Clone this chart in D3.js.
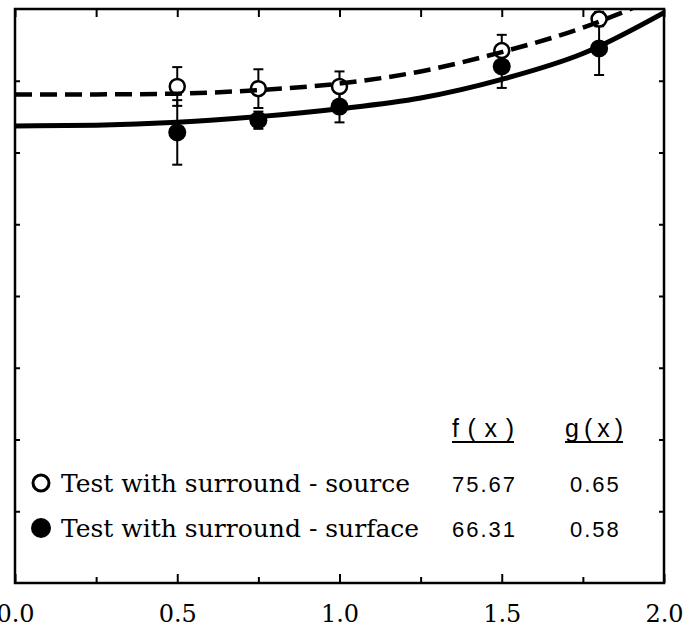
<!DOCTYPE html>
<html>
<head>
<meta charset="utf-8">
<script src="https://cdn.jsdelivr.net/npm/d3@7"></script>
<style>
  body { margin: 0; background: #fff; }
  svg { display: block; }
</style>
</head>
<body>
<div id="chart"></div>
<script>
// x positions of the measured points
const xValues = [0.5, 0.75, 1.0, 1.5, 1.8];

// open circles: test with surround - source
const sourceMean = [69.2, 68.9, 69.2, 74.2, 78.6];
const sourceErr = [2.7, 2.7, 2.1, 2.2, 1.0];

// filled circles: test with surround - surface
const surfaceMean = [62.8, 64.5, 66.4, 72.0, 74.5];
const surfaceErr = [4.5, 1.2, 2.2, 3.0, 3.7];

// fitted curves
const fitX = [0, 0.25, 0.5, 0.75, 1.0, 1.25, 1.5, 1.75, 2.0];
const sourceFit = [68.1, 68.1, 68.2, 68.7, 69.6, 71.3, 74.0, 77.4, 82.0];
const surfaceFit = [63.7, 63.8, 64.2, 65.0, 66.1, 67.6, 70.2, 73.8, 79.5];

// ticks
const xMajor = [0, 0.5, 1.0, 1.5, 2.0];
const xMinor = [0.25, 0.75, 1.25, 1.75];
const yTicks = [10, 20, 30, 40, 50, 60, 70];

// legend table
const legendLabels = ["Test with surround - source", "Test with surround - surface"];
const fValues = ["75.67", "66.31"];
const gValues = ["0.65", "0.58"];
const headers = ["f(x)", "g(x)"];

const W = 694, H = 633;
const plot = { left: 15, right: 664, top: 9, bottom: 583 };

const svg = d3.select("#chart").append("svg")
  .attr("width", W)
  .attr("height", H);

const x = d3.scaleLinear().domain([0, 2]).range([plot.left, plot.right]);
const y = d3.scaleLinear().domain([0, 80]).range([plot.bottom, plot.top]);

svg.append("defs").append("clipPath").attr("id", "clip")
  .append("rect")
  .attr("x", plot.left).attr("y", plot.top)
  .attr("width", plot.right - plot.left)
  .attr("height", plot.bottom - plot.top);

// axes (ticks pointing inward, frame drawn separately)
function styleAxis(g) {
  g.select(".domain").remove();
  g.selectAll(".tick line").attr("stroke", "#000").attr("stroke-width", 2);
}

svg.append("g")
  .attr("transform", `translate(0,${plot.bottom})`)
  .call(d3.axisBottom(x).tickValues(xMajor).tickSizeInner(-9).tickSizeOuter(0)
    .tickPadding(0).tickFormat(d3.format(".1f")))
  .call(styleAxis)
  .call(g => g.selectAll(".tick text")
    .attr("y", 39).attr("dy", null)
    .attr("font-family", "'DejaVu Serif', serif")
    .attr("font-size", 24)
    .attr("fill", "#000"));

svg.append("g")
  .attr("transform", `translate(0,${plot.bottom})`)
  .call(d3.axisBottom(x).tickValues(xMinor).tickSizeInner(-6).tickSizeOuter(0).tickFormat(""))
  .call(styleAxis);

svg.append("g")
  .attr("transform", `translate(0,${plot.top})`)
  .call(d3.axisTop(x).tickValues(xMajor.concat(xMinor)).tickSizeInner(-8).tickSizeOuter(0).tickFormat(""))
  .call(styleAxis);

svg.append("g")
  .attr("transform", `translate(${plot.left},0)`)
  .call(d3.axisLeft(y).tickValues(yTicks).tickSizeInner(-5).tickSizeOuter(0).tickFormat(""))
  .call(styleAxis);

svg.append("g")
  .attr("transform", `translate(${plot.right},0)`)
  .call(d3.axisRight(y).tickValues(yTicks).tickSizeInner(-5).tickSizeOuter(0).tickFormat(""))
  .call(styleAxis);

// frame
svg.append("rect")
  .attr("x", plot.left).attr("y", plot.top)
  .attr("width", plot.right - plot.left)
  .attr("height", plot.bottom - plot.top)
  .attr("fill", "none")
  .attr("stroke", "#000")
  .attr("stroke-width", 2.5);

// error bars
function errorBars(means, errs) {
  const g = svg.append("g").attr("stroke", "#000").attr("stroke-width", 2);
  xValues.forEach((xv, i) => {
    const cx = x(xv), lo = y(means[i] - errs[i]), hi = y(means[i] + errs[i]);
    g.append("line").attr("x1", cx).attr("x2", cx).attr("y1", lo).attr("y2", hi);
    g.append("line").attr("x1", cx - 5).attr("x2", cx + 5).attr("y1", lo).attr("y2", lo);
    g.append("line").attr("x1", cx - 5).attr("x2", cx + 5).attr("y1", hi).attr("y2", hi);
  });
}
errorBars(surfaceMean, surfaceErr);
errorBars(sourceMean, sourceErr);

// points
svg.append("g").selectAll("circle")
  .data(xValues)
  .join("circle")
  .attr("cx", d => x(d))
  .attr("cy", (d, i) => y(surfaceMean[i]))
  .attr("r", 9)
  .attr("fill", "#000");

svg.append("g").selectAll("circle")
  .data(xValues)
  .join("circle")
  .attr("cx", d => x(d))
  .attr("cy", (d, i) => y(sourceMean[i]))
  .attr("r", 7.5)
  .attr("fill", "#fff")
  .attr("stroke", "#000")
  .attr("stroke-width", 2.5);

// fitted curves
const line = d3.line()
  .x((d, i) => x(fitX[i]))
  .y(d => y(d))
  .curve(d3.curveMonotoneX);

svg.append("path")
  .datum(surfaceFit)
  .attr("clip-path", "url(#clip)")
  .attr("d", line)
  .attr("fill", "none")
  .attr("stroke", "#000")
  .attr("stroke-width", 5);

svg.append("path")
  .datum(sourceFit)
  .attr("clip-path", "url(#clip)")
  .attr("d", line)
  .attr("fill", "none")
  .attr("stroke", "#000")
  .attr("stroke-width", 4.5)
  .attr("stroke-dasharray", "17,8");

// legend
const rowY = [492, 537];
const legend = svg.append("g");

legend.append("circle")
  .attr("cx", 41).attr("cy", rowY[0] - 9).attr("r", 8)
  .attr("fill", "#fff").attr("stroke", "#000").attr("stroke-width", 3);
legend.append("circle")
  .attr("cx", 41).attr("cy", rowY[1] - 9).attr("r", 10)
  .attr("fill", "#000");

legend.selectAll("text.lab")
  .data(legendLabels)
  .join("text")
  .attr("class", "lab")
  .attr("x", 61)
  .attr("y", (d, i) => rowY[i])
  .attr("font-family", "'DejaVu Serif', serif")
  .attr("font-size", 25)
  .text(d => d);

const numFont = "'Liberation Sans', Arial, sans-serif";
legend.selectAll("text.f")
  .data(fValues)
  .join("text")
  .attr("class", "f")
  .attr("x", 452)
  .attr("y", (d, i) => rowY[i])
  .attr("font-family", numFont)
  .attr("font-size", 22)
  .attr("letter-spacing", 2)
  .text(d => d);

legend.selectAll("text.g")
  .data(gValues)
  .join("text")
  .attr("class", "g")
  .attr("x", 570)
  .attr("y", (d, i) => rowY[i])
  .attr("font-family", numFont)
  .attr("font-size", 22)
  .attr("letter-spacing", 2)
  .text(d => d);

const headX = [452, 565];
const headLen = [62, 58];
headers.forEach((h, i) => {
  legend.append("text")
    .attr("x", headX[i])
    .attr("y", 437)
    .attr("font-family", numFont)
    .attr("font-size", 25)
    .attr("textLength", headLen[i])
    .attr("lengthAdjust", "spacing")
    .text(h);
  legend.append("line")
    .attr("x1", headX[i]).attr("x2", headX[i] + headLen[i])
    .attr("y1", 442).attr("y2", 442)
    .attr("stroke", "#000").attr("stroke-width", 2);
});
</script>
</body>
</html>
